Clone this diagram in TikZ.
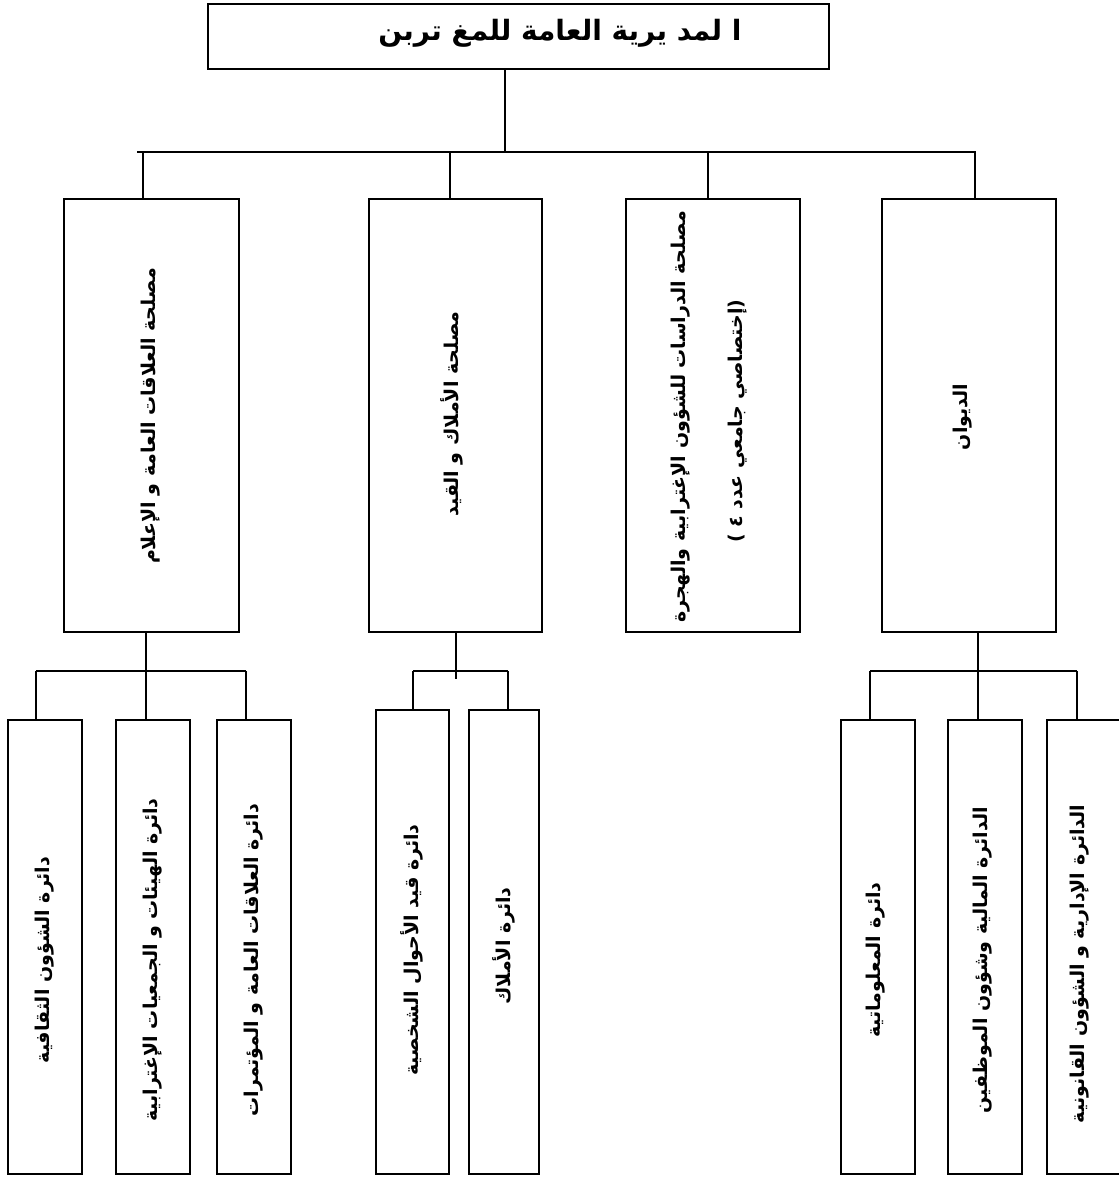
\documentclass[tikz,border=0pt]{standalone}
\usepackage{fontspec}
\newfontfamily\arabicfont[Script=Arabic]{DejaVu Sans}
\TeXXeTstate=1
\begin{document}
\begin{tikzpicture}[x=1pt,y=-1pt,
  box/.style={draw, line width=2.4pt, inner sep=0pt},
  topbox/.style={box, minimum width=621pt, minimum height=65pt},
  unitbox/.style={box, minimum width=174pt, minimum height=433pt},
  subbox/.style={box, minimum width=74pt, minimum height=454pt},
  conn/.style={line width=2.2pt},
  lbl/.style={rotate=90, inner sep=0pt, font=\arabicfont\bfseries\fontsize{19}{23}\selectfont},
  ttl/.style={inner sep=0pt, font=\arabicfont\bfseries\fontsize{28}{32}\selectfont},
]
\useasboundingbox (0,0) rectangle (1119,1178);
\fill[white] (0,0) rectangle (1119,1178);

% top
\node[topbox] (top) at (518.5,36.5) {};
\node[ttl] (ttltext) at (560,33) {\beginR ا لمد يرية  العامة للمغ تربن\endR};

% level 1
\node[unitbox, minimum width=175pt] (rel) at (151.5,415.5) {};
\node[unitbox, minimum width=173pt] (aml) at (455.5,415.5) {};
\node[unitbox] (dir) at (713,415.5) {};
\node[unitbox] (diw) at (969,415.5) {};

\node[lbl] (rellbl) at (151,416) {\beginR مصلحة العلاقات العامة و الإعلام\endR};
\node[lbl] (amllbl) at (452,414) {\beginR مصلحة الأملاك و القيد\endR};
\node[lbl] (dirlbla) at (681,417) {\beginR مصلحة الدراسات للشؤون الإغترابية والهجرة\endR};
\node[lbl] (dirlblb) at (738,421) {\beginR (إختصاصي جامعي عدد ٤ )\endR};
\node[lbl] (diwlbl) at (963,417) {\beginR الديوان\endR};

% level 2
\node[subbox] (sA) at (45,947) {};
\node[subbox] (sB) at (153,947) {};
\node[subbox] (sC) at (254,947) {};
\node[subbox, minimum width=73pt, minimum height=464pt] (sD) at (412.5,942) {};
\node[subbox, minimum width=70pt, minimum height=464pt] (sE) at (504,942) {};
\node[subbox] (sF) at (878,947) {};
\node[subbox] (sG) at (985,947) {};
\node[subbox, minimum width=76pt] (sH) at (1085,947) {};

\node[lbl] (lA) at (45,960) {\beginR دائرة الشؤون الثقافية\endR};
\node[lbl] (lB) at (153,960) {\beginR دائرة الهيئات و الجمعيات الإغترابية\endR};
\node[lbl] (lC) at (254,960) {\beginR دائرة العلاقات العامة و المؤتمرات\endR};
\node[lbl] (lD) at (412,950) {\beginR دائرة قيد الأحوال الشخصية\endR};
\node[lbl] (lE) at (504,946) {\beginR دائرة الأملاك\endR};
\node[lbl] (lF) at (876,960) {\beginR دائرة المعلوماتية\endR};
\node[lbl] (lG) at (983,960) {\beginR الدائرة المالية وشؤون الموظفين\endR};
\node[lbl] (lH) at (1080,964) {\beginR الدائرة الإدارية و الشؤون القانونية\endR};

% connectors level 0 -> 1
\coordinate (t0) at (505,152);
\coordinate (bL) at (137,152);
\coordinate (bR) at (976,152);
\coordinate (d1) at (143,152);
\coordinate (d2) at (450,152);
\coordinate (d3) at (708,152);
\coordinate (d4) at (975,152);
\draw[conn] (top.south -| t0) -- (t0);
\draw[conn] (bL) -- (bR);
\draw[conn] (d1) -- (d1 |- rel.north);
\draw[conn] (d2) -- (d2 |- aml.north);
\draw[conn] (d3) -- (d3 |- dir.north);
\draw[conn] (d4) -- (d4 |- diw.north);

% rel -> A B C
\coordinate (r0) at (146,671);
\coordinate (rA) at (36,671);
\coordinate (rC) at (246,671);
\draw[conn] (rel.south -| r0) -- (r0);
\draw[conn] (rA) -- (rC);
\draw[conn] (rA) -- (rA |- sA.north);
\draw[conn] (r0) -- (r0 |- sB.north);
\draw[conn] (rC) -- (rC |- sC.north);

% aml -> D E
\coordinate (m0) at (456,679);
\coordinate (mD) at (413,671);
\coordinate (mE) at (508,671);
\draw[conn] (aml.south -| m0) -- (m0);
\draw[conn] (mD) -- (mE);
\draw[conn] (mD) -- (mD |- sD.north);
\draw[conn] (mE) -- (mE |- sE.north);

% diw -> F G H
\coordinate (w0) at (978,671);
\coordinate (wF) at (870,671);
\coordinate (wH) at (1077,671);
\draw[conn] (diw.south -| w0) -- (w0);
\draw[conn] (wF) -- (wH);
\draw[conn] (wF) -- (wF |- sF.north);
\draw[conn] (w0) -- (w0 |- sG.north);
\draw[conn] (wH) -- (wH |- sH.north);
\end{tikzpicture}
\end{document}
